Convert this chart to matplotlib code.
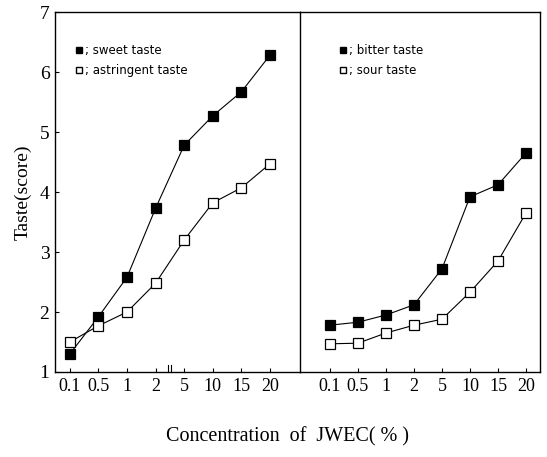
import matplotlib
matplotlib.use('Agg')
import matplotlib.pyplot as plt
from matplotlib.lines import Line2D

concentrations = ['0.1', '0.5', '1', '2', '5', '10', '15', '20']
sweet = [1.3, 1.92, 2.58, 3.73, 4.78, 5.27, 5.67, 6.28]
astringent = [1.5, 1.77, 2.0, 2.48, 3.2, 3.82, 4.07, 4.47]
bitter = [1.78, 1.83, 1.95, 2.12, 2.72, 3.92, 4.12, 4.65]
sour = [1.47, 1.48, 1.65, 1.78, 1.88, 2.33, 2.85, 3.65]

plt.rcParams['font.family'] = ['Liberation Serif', 'DejaVu Serif']

fig = plt.figure(figsize=(5.47, 4.57), dpi=100)
ax1 = fig.add_axes([0.1005, 0.186, 0.4479, 0.7877])
ax2 = fig.add_axes([0.5484, 0.186, 0.4388, 0.7877], sharey=ax1)
ax2.patch.set_visible(False)

x = list(range(len(concentrations)))


def style(ax, xlim):
    ax.set_xlim(*xlim)
    ax.set_xticks(x)
    ax.set_xticklabels(concentrations, fontsize=13)
    ax.tick_params(axis='both', direction='in', length=3, width=0.8, pad=4)
    for s in ax.spines.values():
        s.set_linewidth(1.0)


def series(ax, vals, filled):
    ax.plot(x, vals, '-', color='black', lw=0.8, marker='s', ms=6.5,
            mfc='black' if filled else 'white', mec='black', mew=0.9)


series(ax1, sweet, True)
series(ax1, astringent, False)
series(ax2, bitter, True)
series(ax2, sour, False)

style(ax1, (-0.52, 8.05))
style(ax2, (-1.07, 7.5))
ax1.set_ylim(1, 7)
ax1.set_yticks(range(1, 8))
ax1.tick_params(axis='y', labelsize=14)
ax2.tick_params(axis='y', left=False, labelleft=False)
ax2.spines['left'].set_visible(False)

# axis break mark
ax1.plot([3.45, 3.45], [1.0, 1.12], color='black', lw=0.8, clip_on=False)
ax1.plot([3.55, 3.55], [1.0, 1.12], color='black', lw=0.8, clip_on=False)

h_filled = Line2D([], [], ls='none', marker='s', ms=5, mfc='black', mec='black')
h_open = Line2D([], [], ls='none', marker='s', ms=5, mfc='white', mec='black')
leg_kw = dict(frameon=False, handlelength=0.6, handletextpad=0.2, labelspacing=0.55,
              prop={'family': 'DejaVu Sans', 'size': 8.5})
ax1.legend([h_filled, h_open], ['; sweet taste', '; astringent taste'],
           loc='upper left', bbox_to_anchor=(0.04, 0.94), **leg_kw)
ax2.legend([h_filled, h_open], ['; bitter taste', '; sour taste'],
           loc='upper left', bbox_to_anchor=(0.12, 0.94), **leg_kw)

ax1.set_ylabel('Taste(score)', fontsize=14, labelpad=6)
fig.text(0.525, 0.033, 'Concentration  of  JWEC( % )', ha='center', fontsize=14.5)

fig.savefig('out.png', dpi=100)
